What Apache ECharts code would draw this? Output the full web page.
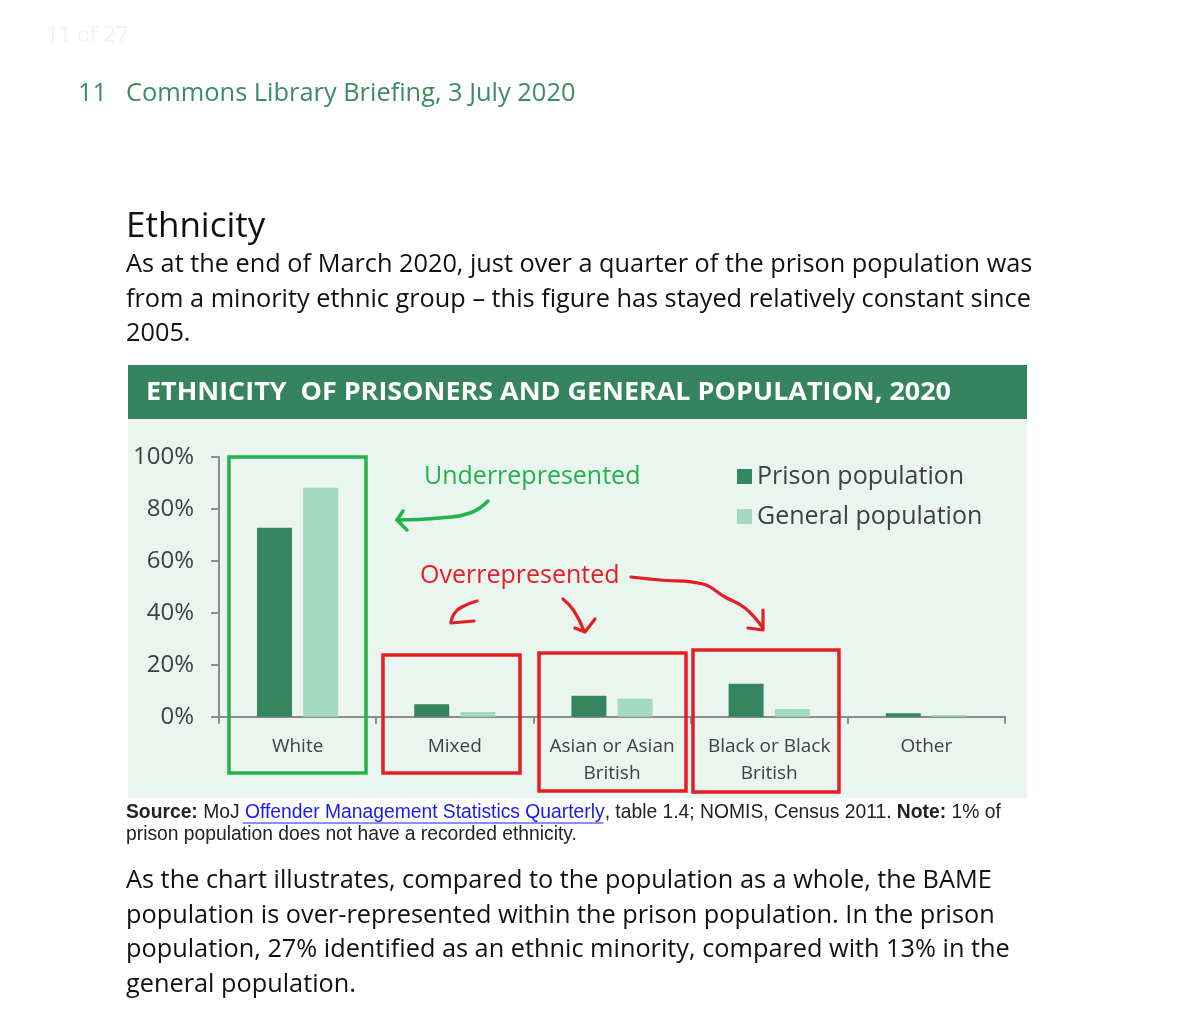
<!DOCTYPE html>
<html><head><meta charset="utf-8">
<script src="https://cdn.jsdelivr.net/npm/echarts@6/dist/echarts.min.js"></script>
<style>html,body{margin:0;padding:0;background:#fff}#c{width:1200px;height:1021px}</style>
</head><body><div id="c"></div>
<script>
const categories = ['White', 'Mixed', 'Asian or Asian\nBritish', 'Black or Black\nBritish', 'Other'];
const prisonValues = [72.7, 4.8, 8.1, 12.7, 1.3];
const generalValues = [88.1, 1.8, 6.9, 3.0, 0.7];
const seriesNames = ['Prison population', 'General population'];
const yTicks = [0, 20, 40, 60, 80, 100];
const chartTitle = 'ETHNICITY  OF PRISONERS AND GENERAL POPULATION, 2020';

const DARK = '#358660', LIGHT = '#a3d9bf', TXT = '#404040', PAGE_GREEN = '#3b8c63';
const RED = '#e31e25', GRN = '#23b24b';
const F = '"Open Sans", "Noto Sans", sans-serif';
const SF = '"Liberation Sans Narrow", "Liberation Sans", sans-serif';

function txt(x, y, s, size, color, extra) {
  return Object.assign({ type: 'text', x: x, y: y, z: 10,
    style: Object.assign({ text: s, font: size + 'px ' + F, fill: color, verticalAlign: 'middle' }, extra || {}) });
}
function line(points, color, w, smooth) {
  return { type: 'polyline', z: 20, shape: { points: points, smooth: smooth || 0 },
    style: { stroke: color, lineWidth: w, fill: null, lineCap: 'round', lineJoin: 'round' } };
}
function box(x, y, w, h, color) {
  return { type: 'rect', z: 20, shape: { x: x, y: y, width: w, height: h },
    style: { stroke: color, lineWidth: 3.5, fill: null } };
}

// banner title stretched to the reference width (146 → 951)
const ctx = document.createElement('canvas').getContext('2d');
const TFONT = 'bold 25px ' + F;
ctx.font = TFONT;
const titleMeasured = ctx.measureText(chartTitle).width || 747;
const titleEl = txt(146, 393, chartTitle, 25, '#ffffff', { font: TFONT });
titleEl.scaleX = 805 / titleMeasured;
titleEl.originX = 0;

const chart = echarts.init(document.getElementById('c'));
chart.setOption({
  backgroundColor: '#ffffff',
  animation: false,
  grid: { left: 219, right: 195, top: 456.7, bottom: 304.3 },
  legend: {
    data: seriesNames, orient: 'vertical', left: 732, top: 459, itemGap: 15,
    icon: 'rect', itemWidth: 15, itemHeight: 15,
    textStyle: { fontFamily: F, fontSize: 25, color: TXT }
  },
  xAxis: {
    type: 'category', data: categories,
    axisLine: { lineStyle: { color: '#8c8c8c', width: 2 } },
    axisTick: { show: true, length: 7, lineStyle: { color: '#8c8c8c', width: 2 } },
    axisLabel: { interval: 0, fontFamily: F, fontSize: 19, color: TXT, lineHeight: 27, margin: 16 }
  },
  yAxis: {
    type: 'value', min: 0, max: 100, interval: 20,
    axisLine: { show: true, lineStyle: { color: '#8c8c8c', width: 2 } },
    axisTick: { show: true, length: 8, lineStyle: { color: '#8c8c8c', width: 2 } },
    splitLine: { show: false },
    axisLabel: { fontFamily: F, fontSize: 24, color: TXT, margin: 25,
      formatter: function (v) { return yTicks.indexOf(v) >= 0 ? v + '%' : ''; } }
  },
  series: [
    { name: seriesNames[0], type: 'bar', data: prisonValues, barWidth: 35, barGap: '32%',
      itemStyle: { color: DARK } },
    { name: seriesNames[1], type: 'bar', data: generalValues, barWidth: 35,
      itemStyle: { color: LIGHT } }
  ],
  graphic: [
    { type: 'rect', z: -10, shape: { x: 128, y: 365, width: 899, height: 433 }, style: { fill: '#ebf5ef' } },
    { type: 'rect', z: -9, shape: { x: 128, y: 365, width: 899, height: 54 }, style: { fill: '#36845d' } },
    titleEl,
    txt(46, 36, '11 of 27', 22, '#f2f2f2'),
    txt(78, 94, '11', 25.4, PAGE_GREEN),
    txt(126, 94, 'Commons Library Briefing, 3 July 2020', 25.4, PAGE_GREEN),
    txt(126, 227, 'Ethnicity', 35, '#111111'),
    txt(126, 265, 'As at the end of March 2020, just over a quarter of the prison population was', 25.3, '#111111'),
    txt(126, 300, 'from a minority ethnic group \u2013 this figure has stayed relatively constant since', 25.3, '#111111'),
    txt(126, 334, '2005.', 25.3, '#111111'),
    txt(126, 881, 'As the chart illustrates, compared to the population as a whole, the BAME', 25.3, '#111111'),
    txt(126, 916, 'population is over-represented within the prison population. In the prison', 25.3, '#111111'),
    txt(126, 950, 'population, 27% identified as an ethnic minority, compared with 13% in the', 25.3, '#111111'),
    txt(126, 985, 'general population.', 25.3, '#111111'),
    { type: 'text', x: 126, y: 813, z: 10, style: {
      text: '{b|Source:} MoJ {l|Offender Management Statistics Quarterly}, table 1.4; NOMIS, Census 2011. {b|Note:} 1% of',
      font: '19.3px ' + SF, fill: '#222', verticalAlign: 'middle',
      rich: { b: { fontWeight: 'bold', fontSize: 19.3, fontFamily: SF, fill: '#222' },
              l: { fill: '#1a1aee', fontSize: 19.3, fontFamily: SF } } } },
    { type: 'text', x: 126, y: 835, z: 10, style: {
      text: 'prison population does not have a recorded ethnicity.',
      font: '19.3px ' + SF, fill: '#222', verticalAlign: 'middle' } },
    line([[243, 823], [603, 823]], '#1a1aee', 1),
    box(229, 457, 137, 316, GRN),
    box(383, 655, 137, 118, RED),
    box(539, 653, 147, 138, RED),
    box(693, 650, 146, 142, RED),
    txt(424, 477, 'Underrepresented', 25, GRN),
    txt(420, 576, 'Overrepresented', 25, RED),
    line([[488, 501], [470, 513], [440, 518], [397, 520]], GRN, 3.5, 0.5),
    line([[403, 511], [397, 520], [407, 530]], GRN, 3.5),
    line([[477, 601], [462, 607], [454, 614], [451, 622]], RED, 3.2, 0.5),
    line([[451, 623], [474, 621]], RED, 3.2),
    line([[563, 599], [574, 611], [584, 631]], RED, 3.2, 0.5),
    line([[595, 619], [585, 632], [575, 628]], RED, 3.2),
    line([[631, 577], [660, 580], [703, 584], [725, 597], [745, 608], [763, 628]], RED, 3.2, 0.4),
    line([[763, 610], [763, 630], [748, 628]], RED, 3.2)
  ]
});
</script></body></html>
